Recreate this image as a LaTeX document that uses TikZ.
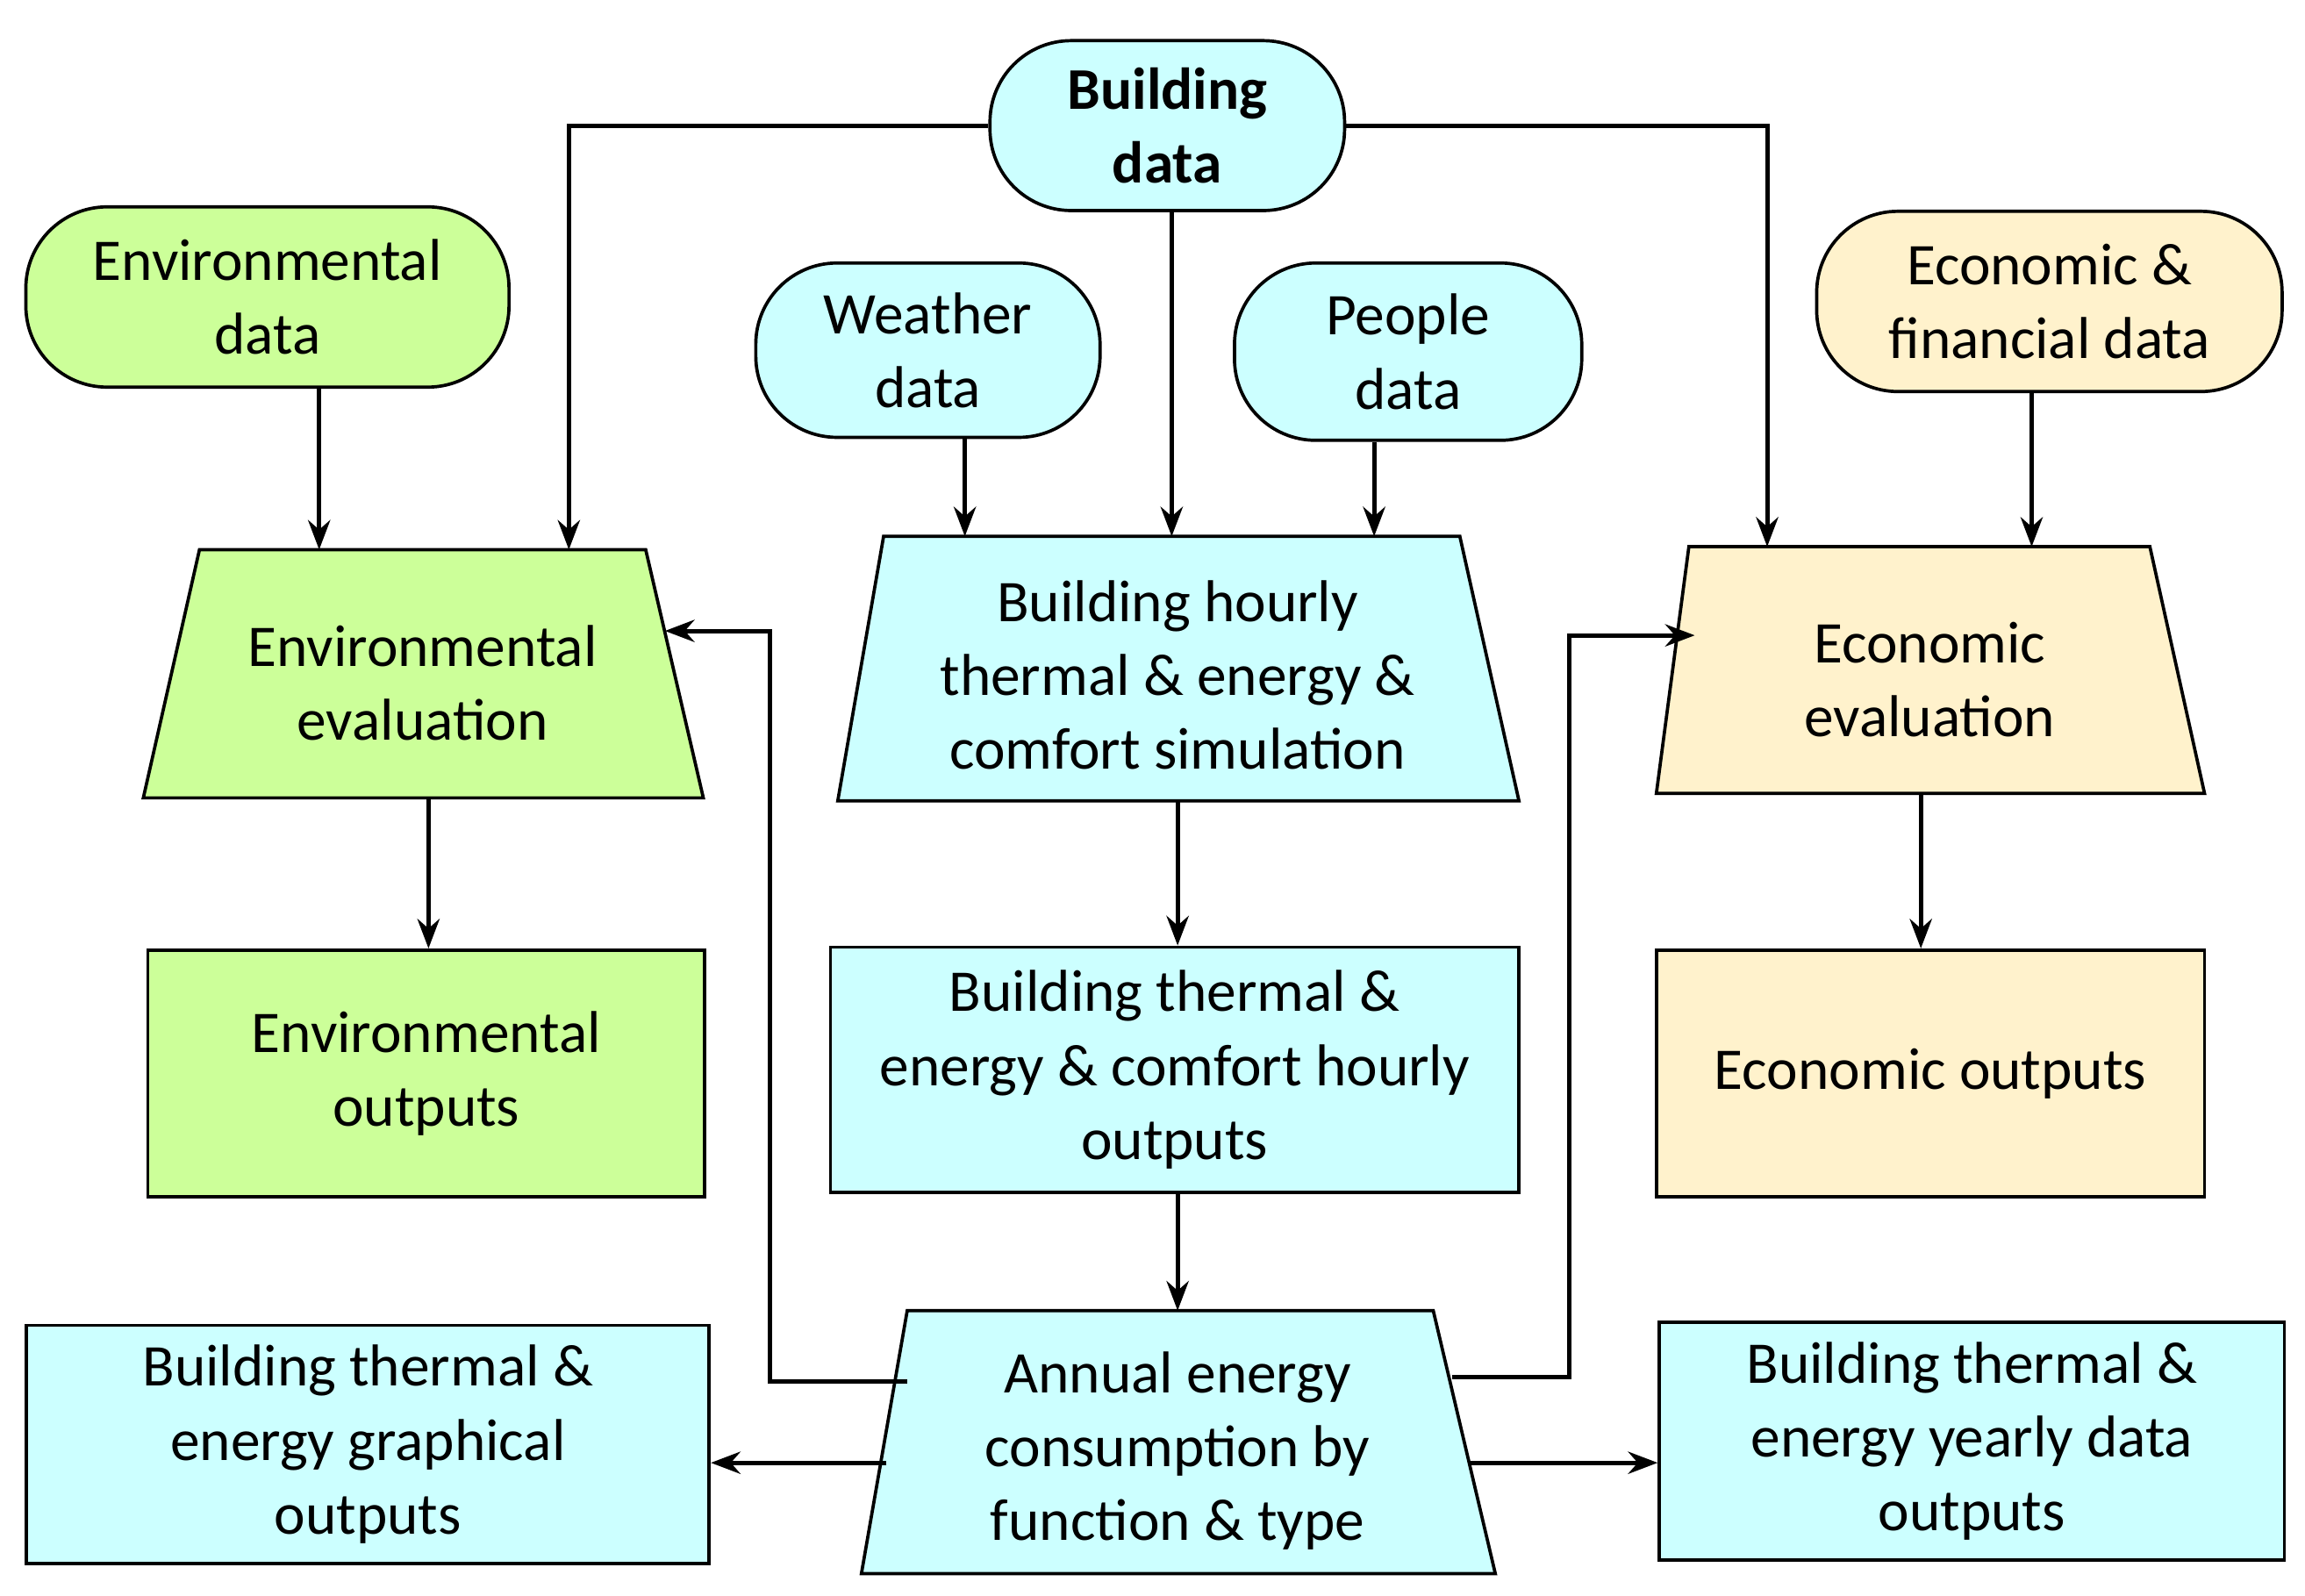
\documentclass[tikz,border=0pt]{standalone}
\usepackage{fontspec}
\setmainfont{Carlito}
\usetikzlibrary{arrows.meta}
\definecolor{gr}{HTML}{CCFF99}
\definecolor{cy}{HTML}{CCFFFF}
\definecolor{be}{HTML}{FFF2CC}
\begin{document}
\begin{tikzpicture}[x=1pt,y=-1pt,
  every node/.style={font=\fontsize{40}{50}\selectfont,align=center},
  term/.style={draw,line width=2.2pt,rounded corners=55pt,inner sep=0pt},
  shp/.style={draw,line width=2.2pt},
  arr/.style={line width=3pt,-{Stealth[length=20pt,width=15pt]}}]
\useasboundingbox (0,0) rectangle (1560,1080);
% terminals
\node[term,fill=cy,minimum width=240pt,minimum height=115pt,font=\fontsize{40}{50}\selectfont\bfseries] (bd) at (790,85) {Building\\data};
\node[term,fill=gr,minimum width=327pt,minimum height=122pt] (ed) at (181,201) {Environmental\\data};
\node[term,fill=cy,minimum width=233pt,minimum height=118pt] (wd) at (628,237) {Weather\\data};
\node[term,fill=cy,minimum width=235pt,minimum height=120pt] (pd) at (953,238) {People\\data};
\node[term,fill=be,minimum width=315pt,minimum height=122pt] (fd) at (1387,204) {Economic \&\\financial data};
% trapezoids
\filldraw[shp,fill=gr] (135,372) -- (437,372) -- (476,540) -- (97,540) -- cycle;
\node (ee) at (286,462) {Environmental\\evaluation};
\filldraw[shp,fill=cy] (598,363) -- (988,363) -- (1028,542) -- (567,542) -- cycle;
\node (sim) at (797,457) {Building hourly\\thermal \& energy \&\\comfort simulation};
\filldraw[shp,fill=be] (1143,370) -- (1455,370) -- (1492,537) -- (1121,537) -- cycle;
\node (ce) at (1306,460) {Economic\\evaluation};
\filldraw[shp,fill=cy] (614,887) -- (970,887) -- (1012,1065) -- (583,1065) -- cycle;
\node (ann) at (797,982) {Annual energy\\consumption by\\function \& type};
% rectangles
\node[shp,fill=gr,minimum width=377pt,minimum height=167pt] (eo) at (288.5,726.5) {Environmental\\outputs};
\node[shp,fill=cy,minimum width=466pt,minimum height=166pt] (ho) at (795,724) {Building thermal \&\\energy \& comfort hourly\\outputs};
\node[shp,fill=be,minimum width=371pt,minimum height=167pt] (co) at (1306.5,726.5) {Economic outputs};
\node[shp,fill=cy,minimum width=462pt,minimum height=161pt] (go) at (249,977.5) {Building thermal \&\\energy graphical\\outputs};
\node[shp,fill=cy,minimum width=423pt,minimum height=161pt] (yo) at (1334.5,975.5) {Building thermal \&\\energy yearly data\\outputs};
% coordinates
\coordinate (eeT1) at (216,372); \coordinate (eeT2) at (385,372);
\coordinate (eeR) at (450,427); \coordinate (eeB) at (290,540);
\coordinate (simT1) at (653,363); \coordinate (simT2) at (793,363); \coordinate (simT3) at (930,363);
\coordinate (simB) at (797,542);
\coordinate (ceT1) at (1196,370); \coordinate (ceT2) at (1375,370);
\coordinate (ceL) at (1147,430); \coordinate (ceB) at (1300,537);
\coordinate (annT) at (797,887); \coordinate (annL) at (614,935); \coordinate (annR) at (983,932);
\coordinate (annL2) at (600,990); \coordinate (annR2) at (995,990);
% arrows
\draw[arr] (bd.west) -| (eeT2);
\draw[arr] (bd.east) -| (ceT1);
\draw[arr] (bd.south -| simT2) -- (simT2);
\draw[arr] (ed.south -| eeT1) -- (eeT1);
\draw[arr] (wd.south -| simT1) -- (simT1);
\draw[arr] (pd.south -| simT3) -- (simT3);
\draw[arr] (fd.south -| ceT2) -- (ceT2);
\draw[arr] (eeB) -- (eo.north -| eeB);
\draw[arr] (simB) -- (ho.north -| simB);
\draw[arr] (ceB) -- (co.north -| ceB);
\draw[arr] (ho.south -| annT) -- (annT);
\draw[arr] (annL) -- (521,935) -- (521,427) -- (eeR);
\draw[arr] (annR) -- (1062,932) -- (1062,430) -- (ceL);
\draw[arr] (annL2) -- (go.east |- annL2);
\draw[arr] (annR2) -- (yo.west |- annR2);
\end{tikzpicture}
\end{document}
